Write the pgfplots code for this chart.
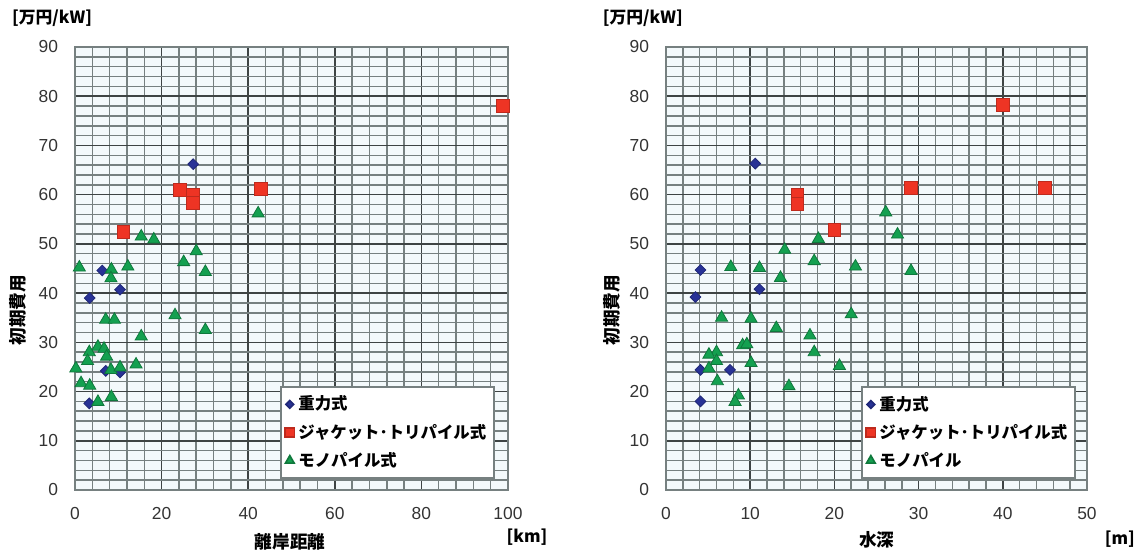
\documentclass[border=0pt]{standalone}
\usepackage{fontspec}
\setmainfont{Liberation Sans}
\newfontfamily\jp{Noto Sans CJK JP}
\usepackage{pgfplots}
\pgfplotsset{compat=1.18}
\definecolor{gmin}{RGB}{118,128,128}
\definecolor{gmaj}{RGB}{62,68,68}
\definecolor{bgc}{RGB}{243,249,251}
\definecolor{cblue}{RGB}{40,50,150}
\definecolor{cred}{RGB}{238,52,36}
\definecolor{cgreen}{RGB}{20,160,80}
\pgfplotsset{
  mystyle/.style={
    scale only axis, height=221.5pt,
    ymin=0, ymax=90, ytick distance=10, minor ytick={0,2,...,90},
    grid=both,
    major grid style={gmaj, line width=0.8pt},
    minor grid style={gmin, line width=0.75pt},
    axis line style={gmin, line width=0.75pt},
    major tick length=0pt, minor tick length=0pt,
    axis background/.style={fill=bgc},
    tick label style={font=\fontsize{8.7}{10}\selectfont, text=black!80},
    /pgf/number format/assume math mode=true,
    yticklabel style={xshift=-5pt},
    xticklabel style={yshift=-5pt},
    clip=false,
    label style={font=\jp\bfseries\fontsize{8.8}{10}\selectfont},
    legend style={draw=gmin, line width=0.8pt, fill=white,
      font=\jp\bfseries\fontsize{8.2}{10}\selectfont,
      row sep=1.5pt, inner xsep=2pt, inner ysep=2.5pt},
    legend cell align=left,
    legend image code/.code={\draw[##1, every mark/.append style={scale=0.72}] plot coordinates {(0.12cm,0cm)};},
  },
  grav/.style={only marks, mark=square*, mark size=1.9pt, mark options={rotate=45, fill=cblue, draw=cblue!80!black}},
  jack/.style={only marks, mark=square*, mark size=3.2pt, mark options={fill=cred, draw=cred!80!black}},
  mono/.style={only marks, mark=triangle*, mark size=3.5pt, mark options={fill=cgreen, draw=cgreen!75!black}},
}
\begin{document}
\begin{tikzpicture}
\useasboundingbox (0,0) rectangle (568.5pt,276.5pt);
\begin{axis}[mystyle, at={(37.5pt,31.5pt)}, anchor=south west, width=216.5pt,
  xmin=0, xmax=100, xtick distance=20, minor xtick={0,4,...,100},
  xlabel={離岸距離}, xlabel style={at={(axis description cs:0.497,-0.117)}, anchor=center},
  ylabel={初期費用}, ylabel style={at={(axis description cs:-0.132,0.406)}, anchor=center},
  legend style={at={(0.97,0.025)}, anchor=south east}]
\addplot[grav] coordinates {(27.3,66.2)(6.3,44.6)(3.4,39.0)(10.4,40.7)(7.1,24.2)(10.4,23.9)(3.3,17.6)};
\addlegendentry{重力式}
\addplot[jack] coordinates {(24.2,61.0)(27.2,59.9)(27.2,58.3)(43.0,61.1)(11.2,52.5)(98.8,78.0)};
\addlegendentry{ジャケット･トリパイル式}
\addplot[mono] coordinates {(42.3,56.2)(15.3,51.5)(18.2,50.9)(28.0,48.5)(25.1,46.3)(30.1,44.3)(1.0,45.2)(8.4,44.8)(12.2,45.4)(8.3,43.0)(23.1,35.5)(7.1,34.6)(9.1,34.6)(30.1,32.5)(15.3,31.2)(5.3,29.1)(6.7,28.7)(3.3,28.0)(2.9,26.2)(7.3,27.1)(0.2,24.7)(14.1,25.5)(8.3,24.4)(10.4,24.9)(1.4,21.7)(3.4,21.2)(5.3,17.9)(8.4,18.9)};
\addlegendentry{モノパイル式}
\node[font=\jp\bfseries\fontsize{8.4}{10}\selectfont] at (axis description cs:1.044,-0.106) {[km]};
\node[font=\jp\bfseries\fontsize{8.4}{10}\selectfont] at (axis description cs:-0.053,1.065) {[万円/kW]};
\end{axis}
\begin{axis}[mystyle, at={(333pt,31.5pt)}, anchor=south west, width=210.5pt,
  xmin=0, xmax=50, xtick distance=10, minor xtick={0,2,...,50},
  xlabel={水深}, xlabel style={at={(axis description cs:0.501,-0.113)}, anchor=center},
  ylabel={初期費用}, ylabel style={at={(axis description cs:-0.128,0.406)}, anchor=center},
  legend style={at={(0.974,0.025)}, anchor=south east}]
\addplot[grav] coordinates {(10.6,66.3)(4.1,44.7)(3.5,39.2)(11.1,40.8)(4.1,24.4)(7.6,24.4)(4.1,18.0)};
\addlegendentry{重力式}
\addplot[jack] coordinates {(15.6,60.0)(15.6,58.2)(29.1,61.3)(20.0,52.8)(40.0,78.3)(45.0,61.3)};
\addlegendentry{ジャケット･トリパイル式}
\addplot[mono] coordinates {(26.1,56.4)(27.5,51.9)(18.1,51.0)(14.1,48.8)(17.6,46.5)(7.7,45.3)(11.1,45.1)(22.5,45.4)(29.1,44.5)(13.6,43.1)(22.0,35.7)(6.6,35.0)(10.1,34.8)(13.1,32.9)(17.1,31.4)(9.1,29.4)(9.6,29.6)(6.0,28.0)(5.1,27.5)(6.0,26.2)(10.1,25.8)(17.6,28.0)(20.6,25.2)(5.1,24.7)(6.1,22.1)(14.6,21.1)(8.6,19.2)(8.2,17.9)};
\addlegendentry{モノパイル}
\node[font=\jp\bfseries\fontsize{8.4}{10}\selectfont] at (axis description cs:1.078,-0.11) {[m]};
\node[font=\jp\bfseries\fontsize{8.4}{10}\selectfont] at (axis description cs:-0.055,1.065) {[万円/kW]};
\end{axis}
\end{tikzpicture}
\end{document}
